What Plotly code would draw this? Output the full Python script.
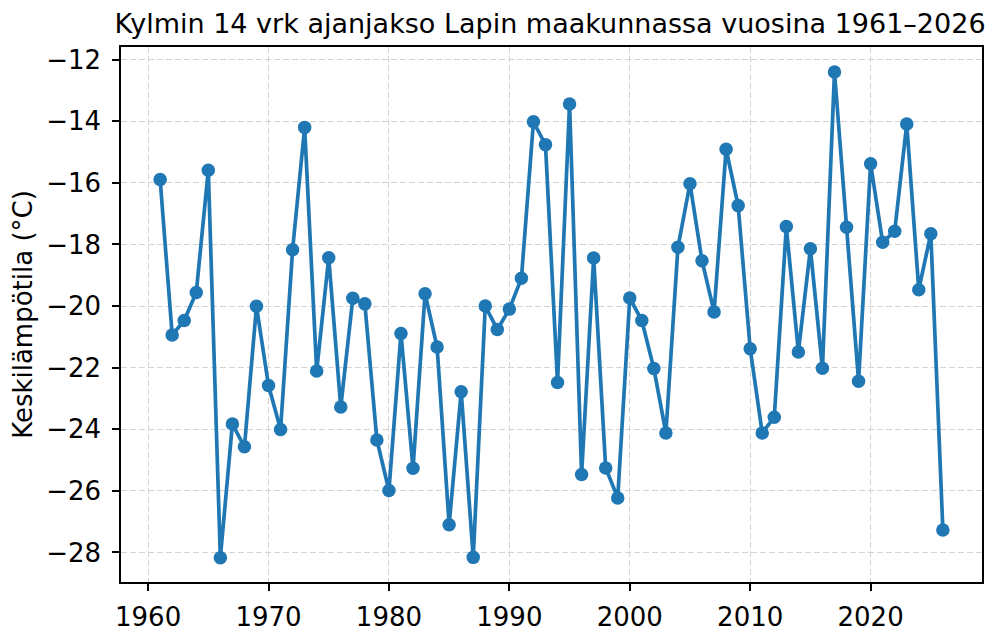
import plotly.graph_objects as go

years = list(range(1961, 2027))
temps = [
    -15.89, -20.94, -20.47, -19.56, -15.59, -28.17, -23.83, -24.57, -20.01, -22.58,
    -24.01, -18.17, -14.20, -22.11, -18.43, -23.28, -19.75, -19.93, -24.35, -25.99,
    -20.89, -25.27, -19.60, -21.33, -27.10, -22.78, -28.16, -20.00, -20.76, -20.10,
    -19.10, -14.02, -14.76, -22.48, -13.44, -25.47, -18.44, -25.26, -26.23, -19.74,
    -20.47, -22.03, -24.12, -18.09, -16.03, -18.53, -20.19, -14.91, -16.74, -21.39,
    -24.12, -23.61, -17.42, -21.49, -18.14, -22.02, -12.40, -17.44, -22.44, -15.38,
    -17.93, -17.57, -14.09, -19.47, -17.65, -27.27,
]
title_text = "Kylmin 14 vrk ajanjakso Lapin maakunnassa vuosina 1961–2026"
y_label = "Keskilämpötila (°C)"
x_ticks = [1960, 1970, 1980, 1990, 2000, 2010, 2020]
y_ticks = [-28, -26, -24, -22, -20, -18, -16, -14, -12]

FONT = "DejaVu Sans"
OFF = 8  # page body margin in the browser

fig = go.Figure()
fig.add_trace(go.Scatter(
    x=years, y=temps, mode="lines+markers",
    line=dict(color="#1f77b4", width=3.7),
    marker=dict(color="#1f77b4", size=13.5),
    showlegend=False,
))

axis_common = dict(
    showline=True, linecolor="black", linewidth=1.6, mirror=True,
    ticks="outside", ticklen=7, tickwidth=1.6, tickcolor="black",
    showgrid=True, gridcolor="#d3d3d3", gridwidth=1.2, griddash="6px,3px",
    zeroline=False,
    tickfont=dict(family=FONT, size=26, color="black"),
)

fig.update_layout(
    width=1000, height=636,
    paper_bgcolor="white", plot_bgcolor="white",
    margin=dict(l=119 - OFF, r=18 + OFF, t=47 - OFF, b=54 + OFF),
    title=dict(text=title_text, x=0.542, xanchor="center", y=0.975, yanchor="middle",
               font=dict(family=FONT, size=27, color="black")),
    xaxis=dict(range=[1957.75, 2029.25], tickvals=x_ticks, ticklabelstandoff=4, **axis_common),
    yaxis=dict(range=[-28.96, -11.59], tickvals=y_ticks, ticklabelstandoff=6,
               title=dict(text=y_label, font=dict(family=FONT, size=26, color="black"), standoff=8),
               **axis_common),
)

fig.write_html("out.html")
